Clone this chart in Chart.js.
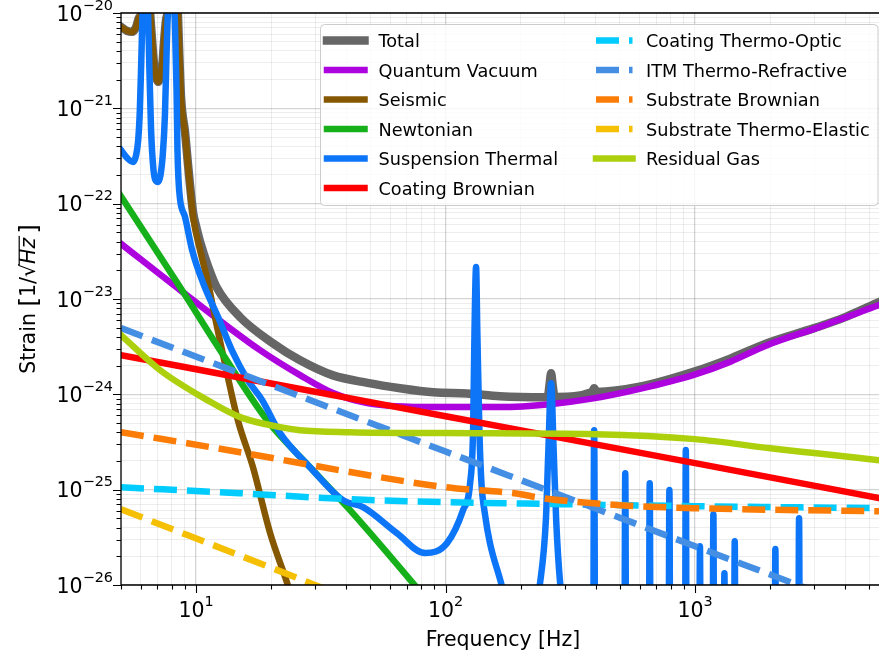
<!DOCTYPE html>
<html>
<head>
<meta charset="utf-8">
<script src="https://cdn.jsdelivr.net/npm/chart.js@4.4.1/dist/chart.umd.min.js"></script>
<style>
  html, body { margin: 0; padding: 0; background: #fff; overflow: hidden; }
  canvas { display: block; }
</style>
</head>
<body>
<canvas id="noiseChart" width="879" height="657"></canvas>
<script>
// Noise budget, strain ASD [1/sqrt(Hz)] vs frequency [Hz]
const seriesLabels = ["Total", "Quantum Vacuum", "Seismic", "Newtonian", "Suspension Thermal", "Coating Brownian",
  "Coating Thermo-Optic", "ITM Thermo-Refractive", "Substrate Brownian", "Substrate Thermo-Elastic", "Residual Gas"];

const totalFreq = [5.0, 5.3, 5.54, 5.75, 5.9, 6.02, 6.15, 6.27, 6.4, 6.54, 6.66, 6.79, 6.92, 7.05, 7.18, 7.32, 7.44, 7.58, 7.68,
  7.9, 8.1, 8.3, 8.45, 8.55, 8.71, 9.03, 9.29, 9.73, 10.0, 10.37, 11.17, 12.1, 15.0, 20.3, 26.0, 35.4, 48.6, 65.7, 89.4,
  122, 165, 250, 258, 261, 264.8, 268.5, 272, 280, 385, 391, 394, 397, 403, 600, 979, 1400, 1944, 3000, 4000, 5460];
const totalAsd = [7.15e-21, 6.48e-21, 6.35e-21, 7.15e-21, 8.9e-21, 1.0e-20, 2.5e-20, 1e-19, 2.5e-20, 1.0e-20, 5.2e-21, 2.8e-21, 2.1e-21, 1.9e-21, 2.1e-21, 2.8e-21, 5.0e-21, 8.5e-21, 1.0e-20,
  2.5e-20, 1e-19, 2.5e-20, 1.0e-20, 4.1e-21, 1.25e-21, 5.6e-22, 2.5e-22, 8.0e-23, 5.8e-23, 4.0e-23, 2.2e-23, 1.32e-23, 6.46e-24, 3.44e-24, 2.29e-24, 1.58e-24, 1.32e-24, 1.16e-24, 1.05e-24,
  1.02e-24, 9.55e-25, 9.33e-25, 1.0e-24, 1.26e-24, 1.66e-24, 1.26e-24, 1.0e-24, 9.4e-25, 1.05e-24, 1.12e-24, 1.16e-24, 1.12e-24, 1.06e-24, 1.2e-24, 1.71e-24, 2.4e-24, 3.44e-24, 4.95e-24, 6.46e-24, 9.27e-24];

const quantumFreq = [4.96, 8.63, 18.04, 26.1, 35.4, 48.5, 89.1, 165.5, 262, 397, 600, 981, 1380, 1944, 3140, 5460];
const quantumAsd = [3.86e-23, 1.24e-23, 2.91e-24, 1.59e-24, 1.03e-24, 8.09e-25, 7.35e-25, 7.35e-25, 7.89e-25, 9.12e-25, 1.14e-24, 1.59e-24, 2.19e-24, 3.28e-24, 5.07e-24, 8.63e-24];

const seismicFreq = [5.0, 5.3, 5.54, 5.75, 5.9, 6.02, 6.15, 6.27, 6.4, 6.54, 6.66, 6.79, 6.92, 7.05, 7.18, 7.32, 7.44, 7.58, 7.68,
  7.9, 8.1, 8.3, 8.45, 8.55, 8.71, 9.03, 9.29, 9.73, 10.37, 11.17, 11.9, 12.7, 14.7, 16.9, 19.8, 23.2, 25.0];
const seismicAsd = [7.13e-21, 6.46e-21, 6.32e-21, 7.13e-21, 8.9e-21, 1.0e-20, 2.5e-20, 1e-19, 2.5e-20, 1.0e-20, 5.2e-21, 2.8e-21, 2.09e-21, 1.89e-21, 2.09e-21, 2.8e-21, 5.0e-21, 8.5e-21, 1.0e-20,
  2.5e-20, 1e-19, 2.5e-20, 1.0e-20, 4.07e-21, 1.22e-21, 5.51e-22, 2.42e-22, 7.23e-23, 3.26e-23, 1.47e-23, 6.46e-24, 2.91e-24, 5.36e-25, 1.72e-25, 3.50e-26, 1.04e-26, 5.5e-27];

const newtonianFreq = [4.96, 8.63, 12.48, 19.26, 29.4, 41.4, 74.1, 90];
const newtonianAsd = [1.23e-22, 1.33e-23, 2.91e-24, 5.36e-25, 1.60e-25, 6.10e-26, 1.04e-26, 5.6e-27];

const suspensionFreq = [5.0, 5.3, 5.59, 5.75, 5.86, 5.95, 6.03, 6.1, 6.27, 6.42, 6.5, 6.6, 6.75, 6.9, 7.05, 7.2, 7.35, 7.5,
  7.62, 7.7, 8.0, 8.2, 8.35, 8.42, 8.5, 8.63, 9.03, 9.64, 10.67, 12.25, 13.9, 16.1, 18.4, 21.7, 28.6, 38.8, 46.7, 63.8,
  82.7, 101.3, 117.5, 125.4, 128.9, 130.6, 132.5, 134.0, 136.6, 139.0, 144.0, 150.6, 167, 181, 210, 239, 252.3, 258.2,
  264.8, 271.1, 277.5, 287.9, 303,
  389, 394, 399, 519, 525, 531, 651, 658, 665, 781, 789, 797, 909, 918, 927, 1036, 1046, 1056, 1172, 1184, 1196,
  1298, 1311, 1324, 1428, 1442, 1456, 2077, 2098, 2119, 2585, 2611, 2637, 5460];
const suspensionAsd = [3.65e-22, 3.0e-22, 2.74e-22, 3.24e-22, 4.65e-22, 9.6e-22, 3.2e-21, 1.0e-20, 1e-19, 1.0e-20, 2.5e-21, 5.9e-22, 2.25e-22, 1.73e-22, 1.69e-22, 2.0e-22, 3.24e-22, 8.5e-22,
  4.1e-21, 1.0e-20, 1e-19, 1.0e-20, 1.55e-21, 3.65e-22, 1.78e-22, 1.09e-22, 7.23e-23, 3.26e-23, 1.47e-23, 6.46e-24, 2.91e-24, 1.41e-24, 8.69e-25, 3.92e-25, 1.72e-25, 7.76e-26, 6.55e-26, 3.50e-26,
  2.16e-26, 2.75e-26, 6.10e-26, 1.17e-25, 4.21e-25, 4.68e-24, 2.16e-23, 4.68e-24, 4.21e-25, 1.26e-25, 5.41e-26, 2.75e-26, 1.04e-26, 4.27e-27, 2.0e-27, 1.04e-26, 4.79e-26, 2.6e-25,
  1.31e-24, 2.6e-25, 4.79e-26, 1.04e-26, 4.27e-27,
  1e-28, 4.21e-25, 1e-28, 1e-28, 1.49e-25, 1e-28, 1e-28, 1.17e-25, 1e-28, 1e-28, 9.89e-26, 1e-28, 1e-28, 2.60e-25, 1e-28, 1e-28, 2.55e-26, 1e-28, 1e-28, 5.53e-26, 1e-28,
  1e-28, 1.33e-26, 1e-28, 1e-28, 2.88e-26, 1e-28, 1e-28, 2.38e-26, 1e-28, 1e-28, 5.02e-26, 1e-28, 1e-28];

const coatBrownFreq = [5, 20, 100, 1000, 5460];
const coatBrownAsd = [2.58e-24, 1.30e-24, 5.89e-25, 1.90e-25, 8.15e-26];

const coatThermoOpticFreq = [5, 15, 41.4, 100, 287, 1000, 5460];
const coatThermoOpticAsd = [1.06e-25, 9.18e-26, 7.94e-26, 7.40e-26, 7.05e-26, 6.71e-26, 6.40e-26];

const itmThermoRefrFreq = [5, 100, 1000, 5460];
const itmThermoRefrAsd = [4.95e-24, 2.51e-25, 2.55e-26, 4.79e-27];

const subBrownFreq = [5, 15, 41.4, 100, 200, 233, 500, 980, 5460];
const subBrownAsd = [4.01e-25, 2.47e-25, 1.53e-25, 1.06e-25, 8.97e-26, 8.3e-26, 6.87e-26, 6.40e-26, 5.94e-26];

const subThermoElasticFreq = [5, 31.4, 50];
const subThermoElasticAsd = [6.24e-26, 9.55e-27, 5.9e-27];

const residualGasFreq = [5, 7.18, 11.1, 15, 21.7, 26, 41.4, 100, 400, 1000, 2000, 3000, 5460];
const residualGasAsd = [4.18e-24, 1.79e-24, 8.69e-25, 5.77e-25, 4.53e-25, 4.21e-25, 4.01e-25, 3.92e-25, 3.82e-25, 3.39e-25, 2.72e-25, 2.42e-25, 2.04e-25];

const freqRange = [5, 5460];
const strainRange = [1e-26, 1e-20];

// line styles, same order as seriesLabels
const lineStyles = [
  { color: "#666666", width: 8.5, dash: [] },
  { color: "#ad03de", width: 6.5, dash: [] },
  { color: "#855700", width: 6.5, dash: [] },
  { color: "#15b01a", width: 6.5, dash: [] },
  { color: "#0d75f8", width: 6.5, dash: [] },
  { color: "#fe0002", width: 6.5, dash: [] },
  { color: "#02ccfe", width: 6.5, dash: [23, 10] },
  { color: "#448ee4", width: 6.5, dash: [23, 10] },
  { color: "#fb7d07", width: 6.5, dash: [23, 10] },
  { color: "#f5bf03", width: 6.5, dash: [23, 10] },
  { color: "#add00d", width: 6.5, dash: [] }
];

const seriesData = [
  [totalFreq, totalAsd], [quantumFreq, quantumAsd], [seismicFreq, seismicAsd], [newtonianFreq, newtonianAsd],
  [suspensionFreq, suspensionAsd], [coatBrownFreq, coatBrownAsd], [coatThermoOpticFreq, coatThermoOpticAsd],
  [itmThermoRefrFreq, itmThermoRefrAsd], [subBrownFreq, subBrownAsd], [subThermoElasticFreq, subThermoElasticAsd],
  [residualGasFreq, residualGasAsd]
];

const FONT = '"DejaVu Sans", sans-serif';

function logTicks(lo, hi) {
  const ticks = [];
  for (let e = Math.floor(Math.log10(lo)); e <= Math.ceil(Math.log10(hi)); e++) {
    for (let m = 1; m <= 9; m++) {
      const v = m * Math.pow(10, e);
      if (v >= lo * 0.999 && v <= hi * 1.001) ticks.push({ value: v, major: m === 1 });
    }
  }
  return ticks;
}

const datasets = seriesLabels.map(function (label, i) {
  const st = lineStyles[i];
  const [fr, asd] = seriesData[i];
  return {
    label: label,
    data: fr.map((f, k) => ({ x: f, y: asd[k] })),
    borderColor: st.color,
    borderWidth: st.width,
    borderDash: st.dash,
    borderCapStyle: st.dash.length ? "butt" : "square",
    borderJoinStyle: "round",
    cubicInterpolationMode: "monotone",
    capBezierPoints: false,
    pointRadius: 0,
    fill: false,
    clip: 0,
    order: seriesLabels.length - i   // later series drawn on top
  };
});

function gridStyle() {
  return {
    drawTicks: false,
    color: c => (c.tick && c.tick.major) ? "rgba(0,0,0,0.17)" : "rgba(0,0,0,0.07)",
    lineWidth: c => (c.tick && c.tick.major) ? 1.3 : 1
  };
}

function drawPow(ctx, exp, x, y, align) {
  const main = "10";
  const sup = exp < 0 ? "\u2212" + (-exp) : String(exp);
  ctx.font = "20.5px " + FONT;
  const w1 = ctx.measureText(main).width;
  ctx.font = "14.4px " + FONT;
  const w2 = ctx.measureText(sup).width;
  const start = align === "right" ? x - w1 - w2 : x - (w1 + w2) / 2;
  ctx.font = "20.5px " + FONT;
  ctx.fillText(main, start, y);
  ctx.font = "14.4px " + FONT;
  ctx.fillText(sup, start + w1, y - 11);
}

function drawYLabel(ctx, cx, cy) {
  const fs = 20.5;
  const pieces = [
    { text: "Strain ", font: fs + "px " + FONT },
    { text: "[", font: (fs * 1.2) + "px " + FONT, dy: 2 },
    { text: "1/", font: fs + "px " + FONT },
    { text: "\u221A", font: fs + "px " + FONT },
    { text: "Hz", font: "italic " + fs + "px " + FONT, bar: true },
    { text: "\u2009", font: fs + "px " + FONT },
    { text: "]", font: (fs * 1.2) + "px " + FONT, dy: 2 }
  ];
  let total = 0;
  pieces.forEach(p => { ctx.font = p.font; p.w = ctx.measureText(p.text).width; total += p.w; });
  ctx.save();
  ctx.translate(cx, cy);
  ctx.rotate(-Math.PI / 2);
  let x = -total / 2;
  pieces.forEach(p => {
    ctx.font = p.font;
    ctx.fillText(p.text, x, p.dy || 0);
    if (p.bar) ctx.fillRect(x - 1, -fs * 0.8, p.w + 3, 1.2);
    x += p.w;
  });
  ctx.restore();
}

function drawLegend(ctx) {
  const box = { x: 320.5, y: 24.5, w: 557.5, h: 181 };
  ctx.save();
  ctx.fillStyle = "rgba(255,255,255,0.8)";
  ctx.strokeStyle = "#cccccc";
  ctx.lineWidth = 1;
  ctx.beginPath();
  ctx.roundRect(box.x, box.y, box.w, box.h, 4);
  ctx.fill();
  ctx.stroke();

  const cols = [{ x0: 327, x1: 364.5, tx: 378.5 }, { x0: 596, x1: 632.5, tx: 646 }];
  const rowY0 = 40.6, rowDy = 29.5;
  seriesLabels.forEach(function (label, i) {
    const col = i < 6 ? cols[0] : cols[1];
    const row = i < 6 ? i : i - 6;
    const y = rowY0 + row * rowDy;
    const st = lineStyles[i];
    ctx.strokeStyle = st.color;
    ctx.lineWidth = st.width;
    ctx.setLineDash(st.dash);
    ctx.lineCap = st.dash.length ? "butt" : "square";
    ctx.beginPath();
    ctx.moveTo(col.x0, y);
    ctx.lineTo(col.x1, y);
    ctx.stroke();
    ctx.setLineDash([]);
    ctx.fillStyle = "#000";
    ctx.font = "17.7px " + FONT;
    ctx.textBaseline = "alphabetic";
    ctx.fillText(label, col.tx, y + 6.4);
  });
  ctx.restore();
}

const axesDecor = {
  id: "axesDecor",
  afterDraw(chart) {
    const { ctx, chartArea: a, scales } = chart;
    const xs = scales.x, ys = scales.y;
    ctx.save();
    ctx.fillStyle = "#000";
    ctx.strokeStyle = "#000";

    // spines (right one lies outside the picture)
    ctx.lineWidth = 1.3;
    ctx.beginPath();
    ctx.moveTo(a.right + 2, a.top);
    ctx.lineTo(a.left, a.top);
    ctx.lineTo(a.left, a.bottom);
    ctx.lineTo(a.right + 2, a.bottom);
    ctx.stroke();

    // tick marks
    ctx.lineWidth = 1.1;
    ctx.beginPath();
    xs.ticks.forEach(t => {
      const px = Math.round(xs.getPixelForValue(t.value)) + 0.5;
      ctx.moveTo(px, a.bottom);
      ctx.lineTo(px, a.bottom + (t.major ? 8 : 4.5));
    });
    ys.ticks.forEach(t => {
      const py = Math.round(ys.getPixelForValue(t.value)) + 0.5;
      ctx.moveTo(a.left, py);
      ctx.lineTo(a.left - (t.major ? 8 : 4.5), py);
    });
    ctx.stroke();

    // tick labels
    ctx.textBaseline = "alphabetic";
    ctx.textAlign = "left";
    xs.ticks.filter(t => t.major).forEach(t => {
      drawPow(ctx, Math.round(Math.log10(t.value)), xs.getPixelForValue(t.value), 617, "center");
    });
    ys.ticks.filter(t => t.major).forEach(t => {
      drawPow(ctx, Math.round(Math.log10(t.value)), a.left - 8, ys.getPixelForValue(t.value) + 7.5, "right");
    });

    // axis titles
    ctx.font = "20.5px " + FONT;
    ctx.textAlign = "center";
    ctx.fillText("Frequency [Hz]", 503, 646);
    ctx.textAlign = "left";
    drawYLabel(ctx, 35, 299);
    ctx.restore();

    drawLegend(ctx);
  }
};

new Chart(document.getElementById("noiseChart"), {
  type: "line",
  data: { datasets: datasets },
  options: {
    responsive: false,
    animation: false,
    devicePixelRatio: 1,
    events: [],
    layout: { padding: { left: 121, top: 13, right: 0, bottom: 72 } },
    plugins: { legend: { display: false }, tooltip: { enabled: false } },
    scales: {
      x: {
        type: "logarithmic",
        min: freqRange[0],
        max: freqRange[1],
        afterBuildTicks: s => { s.ticks = logTicks(freqRange[0], freqRange[1]); },
        ticks: { display: false },
        border: { display: false },
        grid: gridStyle()
      },
      y: {
        type: "logarithmic",
        min: strainRange[0],
        max: strainRange[1],
        afterBuildTicks: s => { s.ticks = logTicks(strainRange[0], strainRange[1]); },
        ticks: { display: false },
        border: { display: false },
        grid: gridStyle()
      }
    }
  },
  plugins: [axesDecor]
});
</script>
</body>
</html>
